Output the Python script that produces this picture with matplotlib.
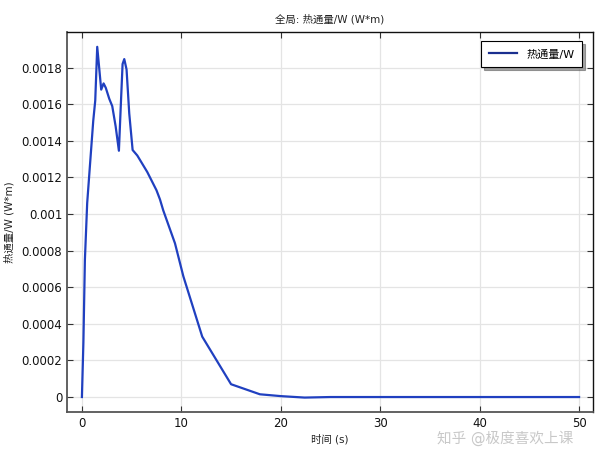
import matplotlib
matplotlib.use("Agg")
import matplotlib.pyplot as plt

plt.rcParams['font.family'] = ['DejaVu Sans', 'Noto Sans CJK SC']

time_s = [0.0, 0.15, 0.3, 0.53, 0.8, 1.14, 1.34, 1.54, 1.94, 2.18, 2.4, 2.75, 3.05,
          3.39, 3.72, 3.9, 4.09, 4.26, 4.49, 4.76, 5.1, 5.57, 6.57, 7.5, 7.85, 8.18,
          9.36, 10.2, 12.1, 15.0, 17.9, 20.0, 22.4, 25.0, 30.0, 40.0, 50.0]
heat_flux = [0.0, 0.0003, 0.00075, 0.00106, 0.00126, 0.00151, 0.00162, 0.001914,
             0.00168, 0.001714, 0.00169, 0.00163, 0.00159, 0.00148, 0.001346, 0.00158,
             0.00182, 0.001847, 0.00179, 0.00155, 0.00135, 0.00132, 0.00123, 0.00113,
             0.00108, 0.00102, 0.00084, 0.00066, 0.00033, 0.00007, 0.000015, 0.000005,
             -0.000003, 0.0, 0.0, 0.0, 0.0]

x_ticks = [0, 10, 20, 30, 40, 50]
y_ticks = [0, 0.0002, 0.0004, 0.0006, 0.0008, 0.001, 0.0012, 0.0014, 0.0016, 0.0018]
y_tick_labels = ["0", "0.0002", "0.0004", "0.0006", "0.0008", "0.001", "0.0012",
                 "0.0014", "0.0016", "0.0018"]

fig = plt.figure(figsize=(6, 4.5), dpi=100)
ax = fig.add_axes([67/600, 1-412/450, (593-67)/600, (412-32)/450])

ax.plot(time_s, heat_flux, color='#2040c0', lw=1.6, label='热通量/W')

ax.set_xlim(-1.5, 51.4)
ax.set_ylim(-0.0000818, 0.001995)
ax.set_xticks(x_ticks)
ax.set_xticklabels([str(t) for t in x_ticks])
ax.set_yticks(y_ticks)
ax.set_yticklabels(y_tick_labels)
ax.tick_params(direction='in', top=True, right=True, labelsize=8.5, length=4,
               color='#333333', labelcolor='#111111')
ax.grid(True, color='#e4e4e4', lw=0.9)
ax.set_axisbelow(True)
for side in ['left', 'bottom']:
    ax.spines[side].set_color('#555555')
    ax.spines[side].set_linewidth(1.3)
for side in ['top', 'right']:
    ax.spines[side].set_color('#111111')
    ax.spines[side].set_linewidth(1.0)

ax.set_title('全局: 热通量/W (W*m)', fontsize=7.5, pad=7, color='#222222')
ax.set_xlabel('时间 (s)', fontsize=7.5, labelpad=3, color='#222222')
ax.set_ylabel('热通量/W (W*m)', fontsize=7.5, labelpad=5, color='#222222')

leg = ax.legend(loc='upper right', bbox_to_anchor=(0.99, 0.99), fontsize=8,
                frameon=True, fancybox=False, shadow=True, handlelength=2.6,
                borderpad=0.7)
leg.get_frame().set_edgecolor('black')
leg.get_frame().set_linewidth(0.8)
leg.get_lines()[0].set_color('#1a2f8f')

fig.text(505/600, 1-438/450, '知乎 @极度喜欢上课', fontsize=10.5, color='#c8c8c8',
         ha='center', va='center')

fig.savefig('out.png', dpi=100)
